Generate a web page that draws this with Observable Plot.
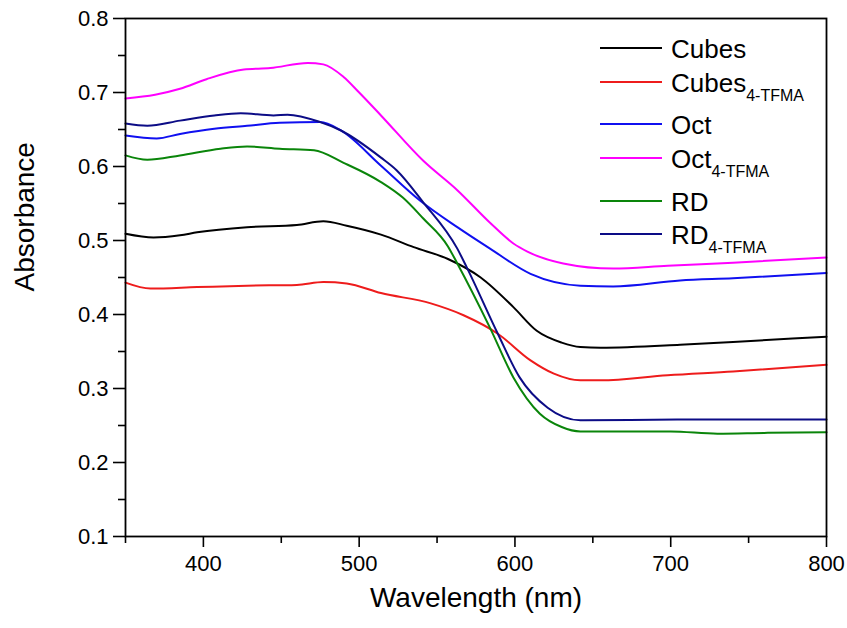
<!DOCTYPE html>
<html>
<head>
<meta charset="utf-8">
<script src="https://cdn.jsdelivr.net/npm/d3@7"></script>
<script src="https://cdn.jsdelivr.net/npm/@observablehq/plot@0.6"></script>
<style>
  body { margin: 0; background: white; }
  #chart { position: relative; width: 847px; height: 628px; }
</style>
</head>
<body>
<div id="chart"></div>
<script>
// ---- Data ----
const seriesNames = ["Cubes", "Cubes4-TFMA", "Oct", "Oct4-TFMA", "RD", "RD4-TFMA"];
const seriesColors = ["#000000", "#ee1c1c", "#1010f0", "#ff00ff", "#0a850a", "#0c0c86"];

const cubesWl  = [350, 368, 385, 396, 428, 460, 477, 492, 514, 535, 557, 578, 599, 614, 630, 642, 655, 706, 740, 800];
const cubesAbs = [0.509, 0.504, 0.507, 0.511, 0.518, 0.521, 0.526, 0.520, 0.508, 0.491, 0.475, 0.450, 0.410, 0.378, 0.362, 0.356, 0.355, 0.359, 0.363, 0.370];

const cubesTfmaWl  = [350, 366, 396, 428, 460, 477, 492, 514, 546, 567, 589, 610, 625, 642, 655, 698, 740, 800];
const cubesTfmaAbs = [0.443, 0.435, 0.437, 0.439, 0.440, 0.444, 0.442, 0.429, 0.415, 0.399, 0.374, 0.338, 0.320, 0.311, 0.311, 0.318, 0.323, 0.332];

const octWl  = [350, 370, 385, 407, 428, 449, 475, 488, 514, 539, 563, 584, 610, 642, 663, 706, 740, 800];
const octAbs = [0.642, 0.638, 0.644, 0.651, 0.655, 0.659, 0.660, 0.649, 0.601, 0.554, 0.518, 0.489, 0.455, 0.439, 0.438, 0.446, 0.449, 0.456];

const octTfmaWl  = [350, 369, 385, 402, 426, 443, 467, 477, 490, 500, 514, 541, 563, 584, 599, 608, 631, 663, 698, 740, 800];
const octTfmaAbs = [0.692, 0.697, 0.705, 0.718, 0.731, 0.733, 0.740, 0.738, 0.721, 0.700, 0.669, 0.608, 0.568, 0.524, 0.496, 0.485, 0.469, 0.462, 0.466, 0.470, 0.477];

const rdWl  = [350, 364, 385, 411, 428, 449, 471, 490, 514, 528, 541, 557, 563, 584, 599, 616, 630, 642, 700, 730, 760, 800];
const rdAbs = [0.615, 0.609, 0.615, 0.624, 0.627, 0.624, 0.622, 0.605, 0.579, 0.558, 0.530, 0.492, 0.469, 0.382, 0.315, 0.266, 0.248, 0.242, 0.242, 0.239, 0.240, 0.241];

const rdTfmaWl  = [350, 364, 385, 407, 424, 445, 454, 475, 488, 514, 524, 541, 563, 569, 589, 603, 621, 642, 706, 800];
const rdTfmaAbs = [0.658, 0.655, 0.662, 0.669, 0.672, 0.669, 0.670, 0.660, 0.649, 0.612, 0.595, 0.552, 0.489, 0.464, 0.374, 0.315, 0.274, 0.257, 0.258, 0.258];

const xMajorTicks = [400, 500, 600, 700, 800];
const xMajorLabels = ["400", "500", "600", "700", "800"];
const xMinorTicks = [350, 450, 550, 650, 750];
const yMajorTicks = [0.1, 0.2, 0.3, 0.4, 0.5, 0.6, 0.7, 0.8];
const yMajorLabels = ["0.1", "0.2", "0.3", "0.4", "0.5", "0.6", "0.7", "0.8"];
const yMinorTicks = [0.15, 0.25, 0.35, 0.45, 0.55, 0.65, 0.75];

const xTitle = "Wavelength (nm)";
const yTitle = "Absorbance";

// legend entries: main text + subscript
const legendMain = ["Cubes", "Cubes", "Oct", "Oct", "RD", "RD"];
const legendSub  = ["", "4-TFMA", "", "4-TFMA", "", "4-TFMA"];

// ---- Build table ----
const wls = [cubesWl, cubesTfmaWl, octWl, octTfmaWl, rdWl, rdTfmaWl];
const abss = [cubesAbs, cubesTfmaAbs, octAbs, octTfmaAbs, rdAbs, rdTfmaAbs];
const rows = seriesNames.flatMap((name, i) => wls[i].map((w, j) => ({name, wl: w, abs: abss[i][j]})));

const FONT = "'Liberation Sans', Arial, Helvetica, sans-serif";

const chart = Plot.plot({
  width: 847,
  height: 628,
  marginLeft: 125,
  marginRight: 21,
  marginTop: 18,
  marginBottom: 92,
  style: {fontFamily: FONT, fontSize: "22px", color: "black", background: "white"},
  x: {domain: [350, 800]},
  y: {domain: [0.1, 0.8]},
  color: {domain: seriesNames, range: seriesColors},
  marks: [
    Plot.line(rows, {x: "wl", y: "abs", z: "name", stroke: "name", strokeWidth: 2, curve: "monotone-x"}),
    Plot.frame({stroke: "black", strokeWidth: 1.8}),
    Plot.axisX({ticks: xMajorTicks, tickSize: 11, tickPadding: 8, strokeWidth: 1.6, fontSize: 22,
      tickFormat: d => xMajorLabels[xMajorTicks.indexOf(d)], label: null}),
    Plot.axisX({ticks: xMinorTicks, tickSize: 7, strokeWidth: 1.6, tickFormat: () => "", label: null}),
    Plot.axisY({ticks: yMajorTicks, tickSize: 12, tickPadding: 5, strokeWidth: 1.6, fontSize: 22,
      tickFormat: d => yMajorLabels[yMajorTicks.findIndex(t => Math.abs(t - d) < 1e-9)], label: null}),
    Plot.axisY({ticks: yMinorTicks, tickSize: 7, strokeWidth: 1.6, tickFormat: () => "", label: null}),
    Plot.text([xTitle], {text: d => d, frameAnchor: "bottom", dy: 70, fontSize: 28, fill: "black"}),
    Plot.text([yTitle], {text: d => d, frameAnchor: "left", dx: -100, dy: 14, rotate: -90, fontSize: 28, fill: "black"})
  ]
});

document.getElementById("chart").appendChild(chart);

// make sure tick labels use the intended size
d3.select(chart).selectAll('g[aria-label="x-axis tick label"], g[aria-label="y-axis tick label"]')
  .attr("font-size", 22).style("font-size", "22px")
  .selectAll("text").attr("font-size", 22).style("font-size", "22px");

// ---- Legend (inside the plot, top right) ----
const svg = d3.select(chart);
const legendLineY = [48, 82, 124, 158, 201, 234];
const lg = svg.append("g").attr("font-family", FONT).attr("fill", "black").attr("text-anchor", "start");
seriesNames.forEach((name, i) => {
  const y = legendLineY[i];
  lg.append("line").attr("x1", 600).attr("x2", 662).attr("y1", y).attr("y2", y)
    .attr("stroke", seriesColors[i]).attr("stroke-width", 2);
  const t = lg.append("text").attr("x", 671).attr("y", y + 9.5).attr("font-size", 26)
    .attr("text-anchor", "start");
  t.append("tspan").text(legendMain[i]);
  if (legendSub[i]) {
    t.append("tspan").attr("dy", 9).attr("font-size", 16).text(legendSub[i]);
  }
});
</script>
</body>
</html>
